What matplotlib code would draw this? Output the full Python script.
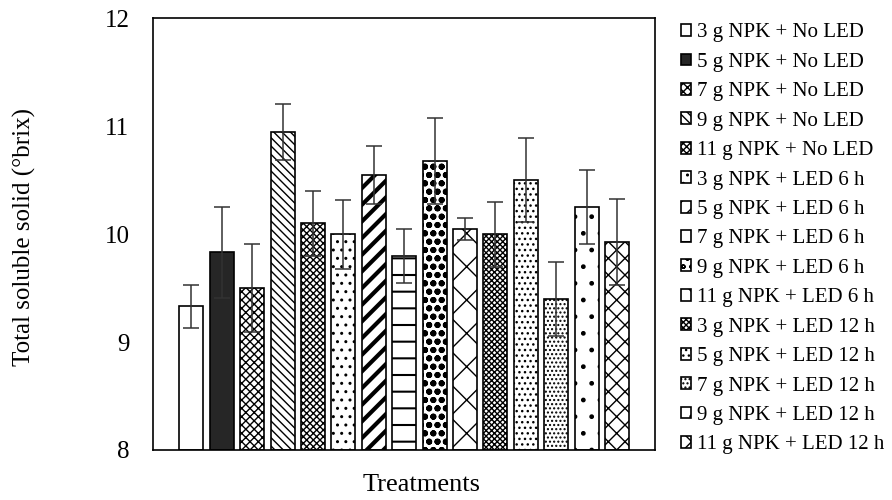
import matplotlib
matplotlib.use("Agg")
import matplotlib.pyplot as plt

plt.rcParams['font.family'] = ['Liberation Serif', 'DejaVu Serif']

labels = ["3 g NPK + No LED", "5 g NPK + No LED", "7 g NPK + No LED", "9 g NPK + No LED",
          "11 g NPK + No LED", "3 g NPK + LED 6 h", "5 g NPK + LED 6 h", "7 g NPK + LED 6 h",
          "9 g NPK + LED 6 h", "11 g NPK + LED 6 h", "3 g NPK + LED 12 h", "5 g NPK + LED 12 h",
          "7 g NPK + LED 12 h", "9 g NPK + LED 12 h", "11 g NPK + LED 12 h"]
values = [9.33, 9.83, 9.50, 10.95, 10.10, 10.00, 10.55, 9.80, 10.68, 10.05, 10.00, 10.50, 9.40, 10.25, 9.93]
errors = [0.20, 0.42, 0.41, 0.26, 0.30, 0.32, 0.27, 0.25, 0.40, 0.10, 0.30, 0.39, 0.34, 0.34, 0.40]
yticks = [8, 9, 10, 11, 12]

hatches = [None, None, 'xxxx', '\\\\\\\\', 'xxxxx', '..', '//', '-', 'oo', 'x', 'xxxxxx', '...', '....', '.', 'xx']
fills = ['white', '#262626'] + ['white'] * 13
hatch_lw = [1, 1, 1, 1, 1, 1, 3.0, 1.5, 2.0, 1, 1, 1, 1, 1, 1]

fig = plt.figure(figsize=(8.92, 5.0), dpi=100)
ax = fig.add_axes([153/892, 1-450/500, (655-153)/892, (450-18.3)/500])

handles = []
for i, (v, e) in enumerate(zip(values, errors)):
    with plt.rc_context({'hatch.linewidth': hatch_lw[i], 'hatch.color': 'black'}):
        b = ax.bar(i, v - 8, bottom=8, width=0.79, color=fills[i], edgecolor='black',
                   linewidth=1.2, hatch=hatches[i], label=labels[i], zorder=2)
    handles.append(b)
    ax.errorbar(i, v, yerr=e, fmt='none', ecolor='#333333', elinewidth=1.1,
                capsize=6, capthick=1.1, zorder=3)

ax.set_xlim(-1.26, 15.25)
ax.set_ylim(8, 12)
ax.set_yticks(yticks)
ax.set_yticklabels([str(t) for t in yticks], fontsize=18)
ax.set_xticks([])
ax.tick_params(axis='y', length=0, pad=17)
for s in ax.spines.values():
    s.set_linewidth(1.2)
    s.set_color('black')

fig.text(24/892, 1-237/500, "Total soluble solid (°brix)", rotation=90, fontsize=18,
         ha='center', va='center')
fig.text(422/892, 1-485/500, "Treatments", fontsize=19, ha='center', va='center')

fig.legend(handles=handles, labels=labels, loc='upper left',
           bbox_to_anchor=(681/892, 1-23.5/500), frameon=False, fontsize=15,
           handlelength=0.5, handleheight=0.5, handletextpad=0.25,
           labelspacing=0.5, borderaxespad=0, borderpad=0)

fig.savefig("out.png", dpi=100)
